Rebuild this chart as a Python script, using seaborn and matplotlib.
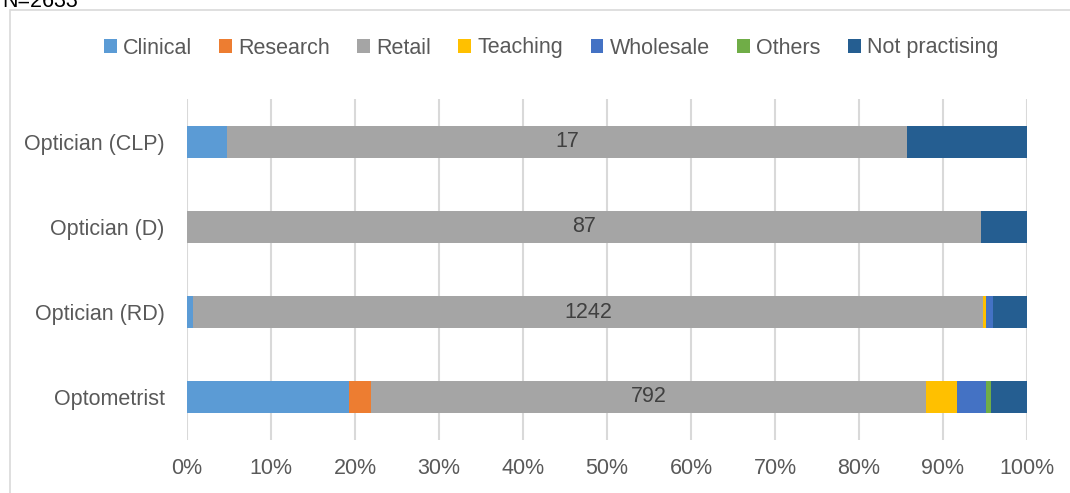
import numpy as np
import pandas as pd
import matplotlib
matplotlib.use("Agg")
import matplotlib.pyplot as plt
import seaborn as sns
from matplotlib.patches import Rectangle
from matplotlib.ticker import PercentFormatter

# data (counts per job role)
roles = ["Optician (CLP)", "Optician (D)", "Optician (RD)", "Optometrist"]
categories = ["Clinical", "Research", "Retail", "Teaching", "Wholesale", "Others", "Not practising"]
clinical = [1, 0, 9, 231]
research = [0, 0, 0, 31]
retail = [17, 87, 1242, 792]
teaching = [0, 0, 4, 44]
wholesale = [0, 0, 11, 41]
others = [0, 0, 0, 7]
not_practising = [3, 5, 54, 52]
colors = ["#5B9BD5", "#ED7D31", "#A5A5A5", "#FFC000", "#4472C4", "#70AD47", "#255E91"]

sns.set_style("white")
plt.rcParams["font.family"] = ["Liberation Sans", "DejaVu Sans"]
FS = 15.5

df = pd.DataFrame(dict(zip(categories,
                           [clinical, research, retail, teaching, wholesale, others, not_practising])),
                  index=roles)
pct = df.div(df.sum(axis=1), axis=0) * 100
cum = pct.cumsum(axis=1)

fig = plt.figure(figsize=(10.7, 4.93), dpi=100)
ax = fig.add_axes([187 / 1070, 1 - 439.5 / 493, 840 / 1070, 340 / 493])

# outer chart frame (Excel style), cut off at the right/bottom
fig.patches.append(Rectangle((10 / 1070, -0.2), 1.2, 1.2 - 10 / 493, transform=fig.transFigure,
                             fill=False, edgecolor="#D9D9D9", linewidth=1.2, zorder=0))
fig.text(2 / 1070, 1 - 7 / 493, "N=2633", fontsize=FS, color="#000000", va="baseline", ha="left")

# stacked bars: draw cumulative totals from the last category backwards
for cat, col in reversed(list(zip(categories, colors))):
    sns.barplot(x=cum[cat].values, y=roles, orient="h", color=col, width=0.376,
                saturation=1, linewidth=0, ax=ax, zorder=3, label=cat, legend=False)

# count labels centred in the retail segment
for i, role in enumerate(roles):
    xc = (cum.loc[role, "Research"] + cum.loc[role, "Retail"]) / 2
    ax.text(xc, i, str(df.loc[role, "Retail"]), ha="center", va="center",
            fontsize=FS, color="#404040", zorder=4)

ax.set_xlim(0, 100)
ax.set_ylim(3.5, -0.5)
ax.set_xticks(np.arange(0, 101, 10))
ax.xaxis.set_major_formatter(PercentFormatter(decimals=0))
ax.grid(axis="x", color="#D9D9D9", linewidth=1.5, zorder=0)
ax.grid(axis="y", visible=False)
ax.set_axisbelow(True)
for s in ax.spines.values():
    s.set_visible(False)
ax.tick_params(axis="x", length=0, pad=13, labelsize=FS, labelcolor="#595959")
ax.tick_params(axis="y", length=0, pad=16, labelsize=FS, labelcolor="#595959")
ax.set_xlabel("")
ax.set_ylabel("")
if ax.get_legend() is not None:
    ax.get_legend().remove()

handles, labels = ax.get_legend_handles_labels()
order = [labels.index(c) for c in categories]
leg = fig.legend([handles[i] for i in order], [labels[i] for i in order],
                 loc="center", bbox_to_anchor=(0.515, 1 - 48 / 493), ncol=7, frameon=False,
                 fontsize=FS, handlelength=0.6, handleheight=0.6, handletextpad=0.3,
                 columnspacing=1.25)
for t in leg.get_texts():
    t.set_color("#595959")

fig.savefig("out.png", dpi=100)
